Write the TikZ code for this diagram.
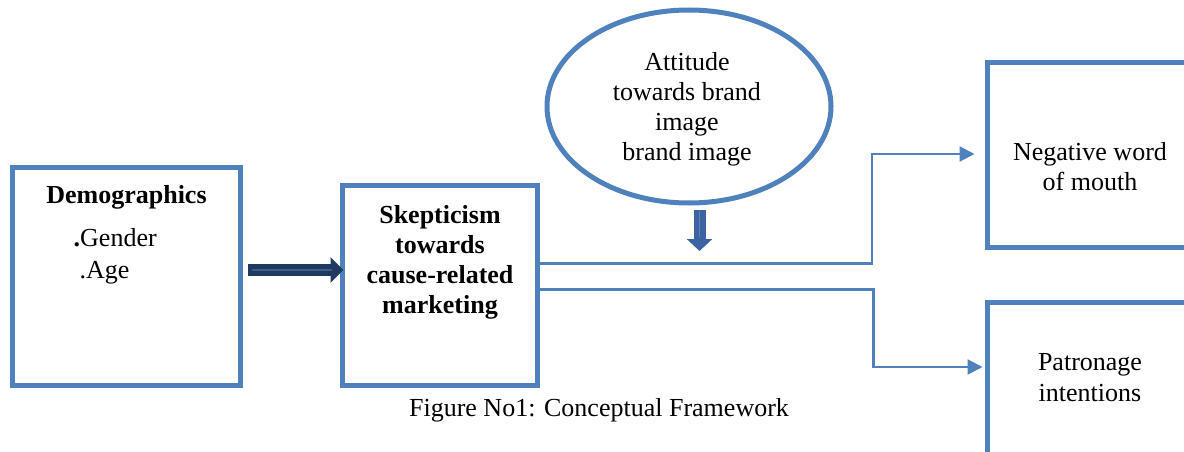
\documentclass[tikz,border=0pt]{standalone}
\usepackage{fontspec}
\setmainfont{Liberation Serif}
\usetikzlibrary{arrows.meta,shapes.geometric}
\definecolor{frameblue}{HTML}{4F81BD}
\definecolor{navy}{HTML}{1F3A60}
\definecolor{navylight}{HTML}{3E5F8C}
\definecolor{midblue}{HTML}{3C64A0}
\definecolor{midlight}{HTML}{5A82BC}

\begin{document}
\begin{tikzpicture}[x=1pt,y=-1pt,
  frame/.style={draw=frameblue, line width=5pt, rectangle, inner sep=0pt},
  txt/.style={font=\fontsize{26}{30}\selectfont, align=center, inner sep=0pt},
  txtb/.style={font=\fontsize{26}{30}\selectfont\bfseries, align=center, inner sep=0pt},
  conn/.style={draw=frameblue, line width=2.2pt, -{Triangle[length=15pt,width=15pt]}},
  bigarrow/.style={line width=12pt, -{Triangle[length=13pt,width=25pt]}}]
\useasboundingbox (0,0) rectangle (1184,452);
\clip (0,0) rectangle (1184,452);

% boxes and ellipse
\node[frame, minimum width=228pt, minimum height=218pt] (demo) at (126.5,276.5) {};
\node[frame, minimum width=195pt, minimum height=200pt] (skep) at (440,285.5) {};
\node[frame, ellipse, minimum width=284pt, minimum height=193pt] (att) at (689,106.5) {};
\node[frame, minimum width=205pt, minimum height=185pt] (neg) at (1090,155) {};
\node[frame, minimum width=205pt, minimum height=185pt] (pat) at (1090,395) {};

% texts
\node[txtb, anchor=base] (demotitle) at ([yshift=-38.5pt]demo.north) {Demographics};
\node[txt, anchor=base west] (gender) at ([xshift=63.5pt,yshift=-81pt]demo.north west) {{\bfseries.}Gender};
\node[txt, anchor=base west] (age) at ([xshift=69.5pt,yshift=-113pt]demo.north west) {.Age};
\node[txtb] (skeptext) at ([yshift=23pt]skep.center) {Skepticism\\towards\\cause-related\\marketing};
\node[txt] (atttext) at ([xshift=-2pt,yshift=-2.3pt]att.center) {Attitude\\towards brand\\image\\brand image};
\node[txt] (negtext) at ([yshift=-12pt]neg.center) {Negative word\\of mouth};
\node[txt] (pattext) at ([yshift=17.5pt]pat.center) {Patronage\\[1pt]intentions};
\node[txt, anchor=base] (caption) at (599,416) {Figure No1: Conceptual Framework};

% block arrow from demographics to skepticism
\draw[navy, bigarrow] ([xshift=4.5pt,yshift=6.5pt]demo.east) -- ([xshift=3.5pt,yshift=15.5pt]skep.west);
\draw[navylight, line width=2pt] ([xshift=9pt,yshift=6.5pt]demo.east) -- ([xshift=-8pt,yshift=15.5pt]skep.west);

% block arrow down from the ellipse
\coordinate (modtip) at (699.5,251);
\draw[midblue, line width=12pt, -{Triangle[length=12pt,width=25pt]}] ([xshift=10.5pt,yshift=-4pt]att.south) -- (modtip);
\draw[midlight, line width=1.5pt] ([xshift=10.5pt,yshift=-5pt]att.south) -- ([yshift=14pt]modtip);

% outcome connectors
\draw[conn] ([yshift=22pt]skep.east) -- ++(332,0) |- ([xshift=-10.5pt,yshift=1pt]neg.west);
\draw[conn] ([yshift=-4pt]skep.east) -- ++(333.5,0) |- ([xshift=-2.5pt,yshift=28pt]pat.west);
\end{tikzpicture}
\end{document}
